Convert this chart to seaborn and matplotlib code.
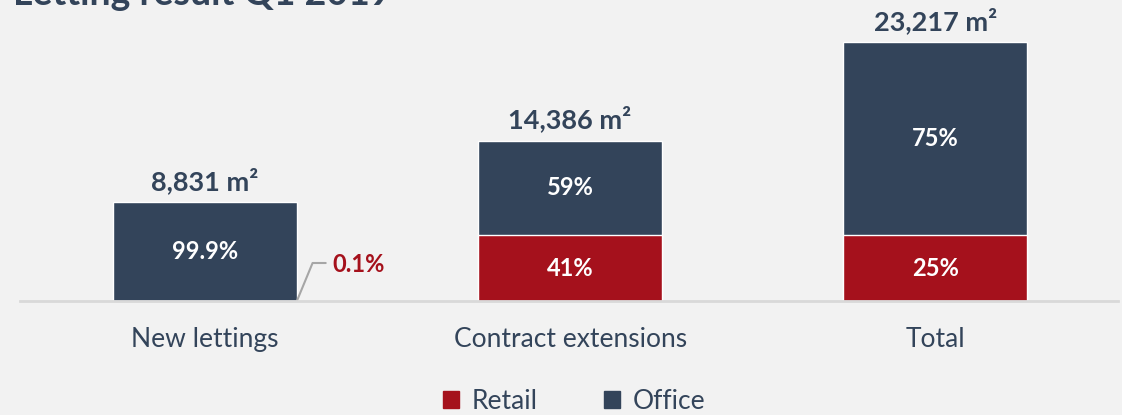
import matplotlib
matplotlib.use("Agg")
import matplotlib.pyplot as plt
from matplotlib.patches import Patch
import seaborn as sns
import pandas as pd

# data
categories = ["New lettings", "Contract extensions", "Total"]
total_m2 = [8831, 14386, 23217]
retail_m2 = [9, 5898, 5907]
office_pct = ["99.9%", "59%", "75%"]
retail_pct = ["0.1%", "41%", "25%"]
total_labels = ["8,831 m²", "14,386 m²", "23,217 m²"]

office_col = "#33445A"
retail_col = "#A5111C"
bg = "#F2F2F2"

sns.set_style("white")
plt.rcParams["font.family"] = ["Lato", "DejaVu Sans"]

df = pd.DataFrame({"cat": categories, "total": total_m2, "retail": retail_m2})

fig = plt.figure(figsize=(11.22, 4.15), dpi=100, facecolor=bg)
ax = fig.add_axes([20 / 1122, 1 - 301 / 415, 1098 / 1122, 301 / 415])
ax.set_facecolor(bg)

w = 0.504
sns.barplot(data=df, x="cat", y="total", color=office_col, width=w, saturation=1, ax=ax)
sns.barplot(data=df, x="cat", y="retail", color=retail_col, width=w, saturation=1, ax=ax)

ax.set_xlim(-0.506, 2.5)
ax.set_ylim(0, 23217 * 301 / 259)
for s in ["top", "right", "left"]:
    ax.spines[s].set_visible(False)
ax.spines["bottom"].set_color("#D9D9D9")
ax.spines["bottom"].set_linewidth(2)
ax.set_yticks([])
ax.set_xlabel("")
ax.set_ylabel("")
ax.tick_params(axis="x", length=0, pad=19, labelsize=19, labelcolor=office_col)

for i, cat in enumerate(categories):
    tot = total_m2[i]
    ret = retail_m2[i]
    ax.annotate(total_labels[i], (i, tot), xytext=(0, 6), textcoords="offset points",
                ha="center", va="bottom", fontsize=19.5, fontweight="bold", color=office_col)
    ax.text(i, ret + (tot - ret) / 2, office_pct[i], ha="center", va="center",
            fontsize=17, fontweight="bold", color="white")
    if ret / tot > 0.05:
        ax.text(i, ret / 2, retail_pct[i], ha="center", va="center",
                fontsize=17, fontweight="bold", color="white")

# leader line for tiny retail share
ymax = ax.get_ylim()[1]
x0 = w / 2
ax.plot([x0, x0 + 0.043, x0 + 0.079], [0, ymax * 38 / 301, ymax * 38 / 301],
        color="#A6A6A6", lw=1.5, clip_on=False)
ax.text(x0 + 0.098, ymax * 36 / 301, retail_pct[0], ha="left", va="center",
        fontsize=17, fontweight="bold", color=retail_col)

fig.text(13 / 1122, 1 - 5 / 415, "Letting result Q1 2019", fontsize=27,
         fontweight="bold", color=office_col, va="baseline", ha="left")

handles = [Patch(color=retail_col, label="Retail"), Patch(color=office_col, label="Office")]
fig.legend(handles=handles, loc="center", bbox_to_anchor=(574 / 1122, 1 - 401 / 415),
           ncol=2, frameon=False, fontsize=19, handlelength=0.6, handleheight=0.6,
           handletextpad=0.5, columnspacing=2.5, labelcolor=office_col)

fig.savefig("out.png", dpi=100, facecolor=bg)
